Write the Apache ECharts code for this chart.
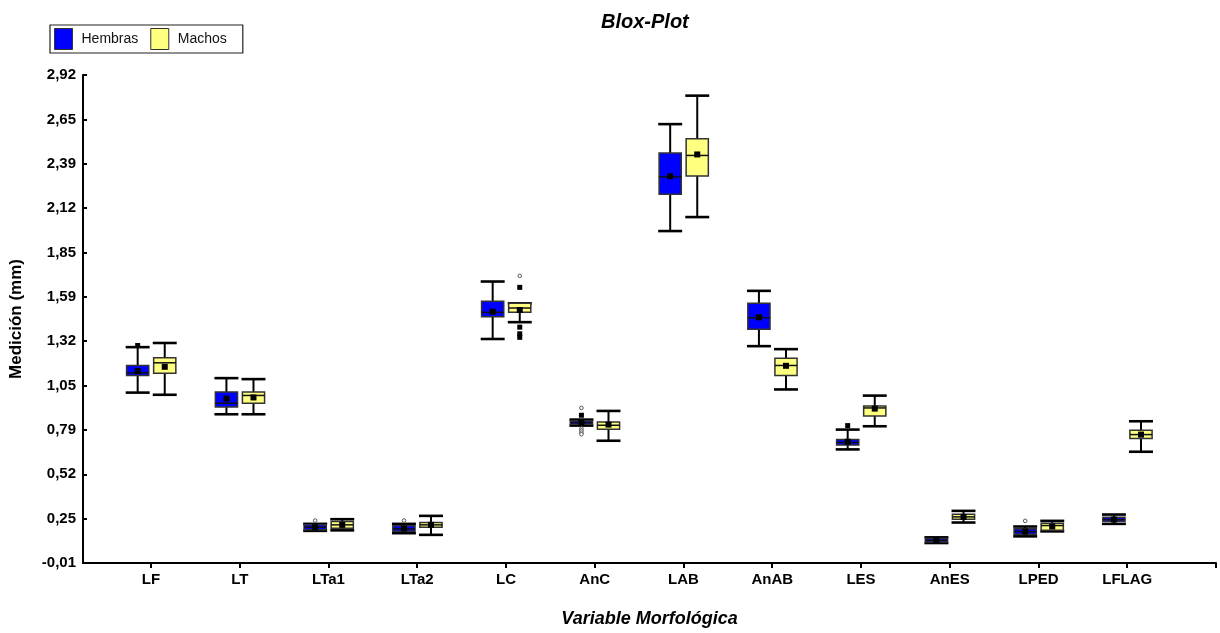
<!DOCTYPE html>
<html>
<head>
<meta charset="utf-8">
<script src="https://cdn.jsdelivr.net/npm/echarts@6/dist/echarts.min.js"></script>
<style>html,body{margin:0;padding:0;background:#fff}#c{width:1220px;height:633px}</style>
</head>
<body>
<div id="c"></div>
<script>
const categories = ['LF','LT','LTa1','LTa2','LC','AnC','LAB','AnAB','LES','AnES','LPED','LFLAG'];
const yTickLabels = ['-0,01','0,25','0,52','0,79','1,05','1,32','1,59','1,85','2,12','2,39','2,65','2,92'];

const hembrasMin  = [1.013, 0.883, 0.183, 0.169, 1.335, 0.815, 1.983, 1.292, 0.672, 0.110, 0.150, 0.225];
const hembrasQ1   = [1.116, 0.927, 0.189, 0.180, 1.469, 0.823, 2.204, 1.393, 0.698, 0.116, 0.163, 0.241];
const hembrasMed  = [1.132, 0.949, 0.205, 0.195, 1.495, 0.833, 2.308, 1.463, 0.714, 0.126, 0.179, 0.251];
const hembrasQ3   = [1.176, 1.017, 0.219, 0.213, 1.561, 0.843, 2.452, 1.549, 0.731, 0.137, 0.195, 0.265];
const hembrasMax  = [1.286, 1.100, 0.225, 0.225, 1.680, 0.851, 2.625, 1.624, 0.791, 0.144, 0.209, 0.281];
const hembrasMean = [1.142, 0.977, 0.205, 0.197, 1.499, 0.833, 2.312, 1.465, 0.718, 0.126, 0.179, 0.251];
const hembrasOutliers = [[0,1.296,'s'],[2,0.245,'o'],[3,0.245,'o'],[5,0.921,'o'],[5,0.877,'s'],
  [5,0.797,'o'],[5,0.785,'o'],[5,0.773,'o'],[5,0.763,'o'],[8,0.815,'s'],[10,0.243,'o']];

const machosMin  = [1.000, 0.883, 0.186, 0.159, 1.436, 0.724, 2.067, 1.032, 0.811, 0.233, 0.180, 0.658];
const machosQ1   = [1.130, 0.949, 0.199, 0.205, 1.495, 0.793, 2.314, 1.116, 0.873, 0.253, 0.186, 0.737];
const machosMed  = [1.192, 0.996, 0.219, 0.219, 1.521, 0.817, 2.437, 1.176, 0.921, 0.267, 0.215, 0.761];
const machosQ3   = [1.222, 1.017, 0.239, 0.233, 1.549, 0.837, 2.537, 1.220, 0.933, 0.283, 0.229, 0.787];
const machosMax  = [1.311, 1.094, 0.253, 0.273, 1.549, 0.903, 2.796, 1.274, 0.995, 0.303, 0.243, 0.841];
const machosMean = [1.168, 0.984, 0.219, 0.219, 1.509, 0.821, 2.443, 1.174, 0.917, 0.267, 0.209, 0.761];
const machosOutliers = [[4,1.714,'o'],[4,1.645,'s'],[4,1.406,'s'],[4,1.366,'s'],[4,1.345,'s']];

const yMin = -0.01, yMax = 2.92;
const yStep = (yMax - yMin) / (yTickLabels.length - 1);
const yTickValues = yTickLabels.map((_, k) => yMin + k * yStep);
const catIdx = categories.map((_, i) => i);

const FONT = "'Liberation Sans',Arial,sans-serif";
const BLUE = '#0000ff', YELLOW = '#ffff80';

function buildBoxData(mn, q1, md, q3, mx, mean) {
  return categories.map((c, i) => [i, mn[i], q1[i], md[i], q3[i], mx[i], mean[i]]);
}

function makeBoxRender(offset, fill) {
  return function (params, api) {
    const i = api.value(0);
    const unit = api.size([1, 0])[0];
    const half = unit * 0.125;
    const capHalf = unit * 0.135;
    const xc = api.coord([i + offset, 0])[0];
    const y = v => api.coord([i + offset, v])[1];
    const yMn = y(api.value(1)), yQ1 = y(api.value(2)), yMd = y(api.value(3)),
          yQ3 = y(api.value(4)), yMx = y(api.value(5)), yMean = y(api.value(6));
    const lineStyle = { stroke: '#000', lineWidth: 2 };
    const capStyle = { stroke: '#000', lineWidth: 2.6 };
    return {
      type: 'group',
      children: [
        { type: 'line', shape: { x1: xc, y1: yMx, x2: xc, y2: yMn }, style: lineStyle },
        { type: 'line', shape: { x1: xc - capHalf, y1: yMx, x2: xc + capHalf, y2: yMx }, style: capStyle },
        { type: 'line', shape: { x1: xc - capHalf, y1: yMn, x2: xc + capHalf, y2: yMn }, style: capStyle },
        { type: 'rect', shape: { x: xc - half, y: yQ3, width: half * 2, height: Math.max(yQ1 - yQ3, 1) },
          style: { fill: fill, stroke: '#333', lineWidth: 1.5 } },
        { type: 'line', shape: { x1: xc - half, y1: yMd, x2: xc + half, y2: yMd }, style: { stroke: '#111', lineWidth: 1.5 } },
        { type: 'rect', shape: { x: xc - 3, y: yMean - 3, width: 6, height: 6 }, style: { fill: '#000' } }
      ]
    };
  };
}

function makeOutlierRender(offset) {
  return function (params, api) {
    const i = api.value(0);
    const p = api.coord([i + offset, api.value(1)]);
    const kind = api.value(2);
    if (kind === 1) {
      return { type: 'rect', shape: { x: p[0] - 2.5, y: p[1] - 2.5, width: 5, height: 5 }, style: { fill: '#000' } };
    }
    return { type: 'circle', shape: { cx: p[0], cy: p[1], r: 1.8 }, style: { fill: '#fff', stroke: '#555', lineWidth: 1 } };
  };
}

const outData = arr => arr.map(o => [o[0], o[1], o[2] === 's' ? 1 : 0]);

const H_OFF = -0.15, M_OFF = 0.155;

const chart = echarts.init(document.getElementById('c'), null, { renderer: 'canvas' });
chart.setOption({
  backgroundColor: '#fff',
  animation: false,
  title: {
    text: 'Blox-Plot', left: 596, top: 7,
    textStyle: { fontFamily: FONT, fontSize: 20, fontWeight: 'bold', fontStyle: 'italic', color: '#000' }
  },
  legend: {
    left: 50, top: 25, orient: 'horizontal',
    padding: [3, 16, 3, 4],
    itemWidth: 18, itemHeight: 21, itemGap: 12,
    borderColor: '#222', borderWidth: 1.2, backgroundColor: '#fff',
    textStyle: { fontFamily: FONT, fontSize: 14, color: '#111', padding: [0, 0, 0, 4] },
    data: [
      { name: 'Hembras', icon: 'rect', itemStyle: { color: BLUE, borderColor: '#333', borderWidth: 1 } },
      { name: 'Machos', icon: 'rect', itemStyle: { color: YELLOW, borderColor: '#333', borderWidth: 1 } }
    ]
  },
  grid: { left: 82, right: 4, top: 75, bottom: 68, containLabel: false },
  xAxis: {
    type: 'value', min: -0.766, max: 12,
    name: 'Variable Morfológica', nameLocation: 'middle', nameGap: 47,
    nameTextStyle: { fontFamily: FONT, fontSize: 18, fontWeight: 'bold', fontStyle: 'italic', color: '#000' },
    splitLine: { show: false },
    axisLine: { show: true, onZero: false, lineStyle: { color: '#000', width: 2 } },
    axisTick: { show: true, customValues: catIdx.concat([12]), length: 5, lineStyle: { color: '#000', width: 2 } },
    axisLabel: {
      customValues: catIdx, margin: 9,
      formatter: v => categories[Math.round(v)] || '',
      fontFamily: FONT, fontSize: 15, fontWeight: 'bold', color: '#000'
    }
  },
  yAxis: {
    type: 'value', min: yMin, max: yMax,
    name: 'Medición (mm)', nameLocation: 'middle', nameGap: 58, nameRotate: 90,
    nameTextStyle: { fontFamily: FONT, fontSize: 17, fontWeight: 'bold', color: '#000' },
    splitLine: { show: false },
    axisLine: { show: true, onZero: false, lineStyle: { color: '#000', width: 2 } },
    axisTick: { show: true, inside: true, customValues: yTickValues, length: 4, lineStyle: { color: '#000', width: 2 } },
    axisLabel: {
      customValues: yTickValues, margin: 7,
      formatter: v => yTickLabels[Math.round((v - yMin) / yStep)] || '',
      fontFamily: FONT, fontSize: 15, fontWeight: 'bold', color: '#000'
    }
  },
  series: [
    {
      name: 'Hembras', type: 'custom', itemStyle: { color: BLUE },
      renderItem: makeBoxRender(H_OFF, BLUE),
      encode: { x: 0, y: [1, 2, 3, 4, 5, 6] },
      data: buildBoxData(hembrasMin, hembrasQ1, hembrasMed, hembrasQ3, hembrasMax, hembrasMean),
      z: 2
    },
    {
      name: 'Machos', type: 'custom', itemStyle: { color: YELLOW },
      renderItem: makeBoxRender(M_OFF, YELLOW),
      encode: { x: 0, y: [1, 2, 3, 4, 5, 6] },
      data: buildBoxData(machosMin, machosQ1, machosMed, machosQ3, machosMax, machosMean),
      z: 2
    },
    {
      name: 'Hembras atípicos', type: 'custom',
      renderItem: makeOutlierRender(H_OFF),
      encode: { x: 0, y: 1 },
      data: outData(hembrasOutliers), z: 3
    },
    {
      name: 'Machos atípicos', type: 'custom',
      renderItem: makeOutlierRender(M_OFF),
      encode: { x: 0, y: 1 },
      data: outData(machosOutliers), z: 3
    }
  ]
});
</script>
</body>
</html>
